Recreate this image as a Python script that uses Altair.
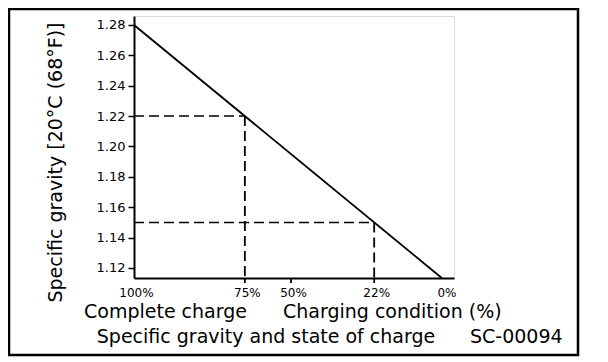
import altair as alt
import pandas as pd

# ---- data ----
charge_labels = ["100%", "75%", "50%", "22%", "0%"]
charge_sg = [1.28, 1.22, 1.195, 1.15, 1.112]          # x position of each charge label (in SG units)
y_ticks = [1.12, 1.14, 1.16, 1.18, 1.20, 1.22, 1.24, 1.26, 1.28]
line_x = [1.28, 1.1134]
line_y = [1.28, 1.1134]
guide_sg = [1.22, 1.15]                                # 75% and 22% reference points
tick_marks = [1.22, 1.195, 1.15]                       # ticks drawn on x axis

x_domain = [1.1068, 1.28]
y_domain = [1.1134, 1.2859]

y_title = "Specific gravity [20°C (68°F)]"
row1_left = "Complete charge"
row1_right = "Charging condition (%)"
row2_left = "Specific gravity and state of charge"
row2_right = "SC-00094"

FONT = "DejaVu Sans"

label_expr = " : ".join(
    f"abs(datum.value - {v}) < 0.0005 ? '{l}'" for v, l in zip(charge_sg, charge_labels)
) + " : ''"

xs = alt.Scale(domain=x_domain, reverse=True, nice=False, zero=False)
ys = alt.Scale(domain=y_domain, nice=False, zero=False)

line_df = pd.DataFrame({"x": line_x, "y": line_y})
guide_df = pd.DataFrame({"sg": guide_sg, "start": [1.28] * len(guide_sg), "bottom": [y_domain[0]] * len(guide_sg)})
tick_df = pd.DataFrame({"sg": tick_marks})
one = pd.DataFrame({"a": [0]})

x_axis = alt.Axis(
    values=charge_sg, labelExpr=label_expr, title=None, grid=False, ticks=False,
    domainColor="black", domainWidth=2,
    labelFont=FONT, labelFontSize=12, labelColor="black", labelPadding=9, labelOffset=2,
    labelFlush=False, labelOverlap=False,
)
y_axis = alt.Axis(
    values=y_ticks, format=".2f", title=y_title, grid=False,
    domainColor="black", domainWidth=2, tickColor="black", tickWidth=1.5, tickSize=6,
    labelFont=FONT, labelFontSize=13, labelColor="black", labelPadding=3,
    titleFont=FONT, titleFontSize=19, titleFontWeight="normal", titleColor="black",
    titleAngle=270, titleX=-79, titleY=146, titleAlign="center", titleBaseline="middle",
    labelFlush=False, labelOverlap=False,
)

line = alt.Chart(line_df).mark_line(color="black", strokeWidth=1.8).encode(
    x=alt.X("x:Q", scale=xs, axis=x_axis),
    y=alt.Y("y:Q", scale=ys, axis=y_axis),
)

hguide = alt.Chart(guide_df).mark_rule(color="black", strokeWidth=1.5, strokeDash=[10, 5]).encode(
    x=alt.X("start:Q", scale=xs, axis=x_axis), x2="sg:Q", y=alt.Y("sg:Q", scale=ys, axis=y_axis)
)
vguide = alt.Chart(guide_df).mark_rule(color="black", strokeWidth=1.8, strokeDash=[10, 5]).encode(
    x=alt.X("sg:Q", scale=xs, axis=x_axis), y=alt.Y("sg:Q", scale=ys, axis=y_axis), y2="bottom:Q"
)

xticks = alt.Chart(tick_df).mark_rule(color="black", strokeWidth=1.8).encode(
    x=alt.X("sg:Q", scale=xs, axis=x_axis), y=alt.value(262), y2=alt.value(267)
)


def txt(s, x, y, align="left"):
    return alt.Chart(pd.DataFrame({"t": [s]})).mark_text(
        font=FONT, fontSize=19, color="black", align=align, baseline="alphabetic"
    ).encode(text="t:N", x=alt.value(x), y=alt.value(y))


texts = [
    txt(row1_left, -50, 302),
    txt(row1_right, 149, 302),
    txt(row2_left, 132, 327, "center"),
    txt(row2_right, 336, 327),
]

border = alt.Chart(one).mark_rect(fillOpacity=0, stroke="black", strokeWidth=2.5).encode(
    x=alt.value(-125), x2=alt.value(444), y=alt.value(-7), y2=alt.value(339)
)

chart = alt.layer(line, hguide, vguide, xticks, *texts, border).properties(
    width=320, height=262,
    autosize=alt.AutoSizeParams(type="none"),
    padding={"left": 126, "top": 8, "right": 128, "bottom": 79},
).configure_view(stroke=None).configure(background="white")

chart.save("out.html", embed_options={"renderer": "svg", "actions": False})
